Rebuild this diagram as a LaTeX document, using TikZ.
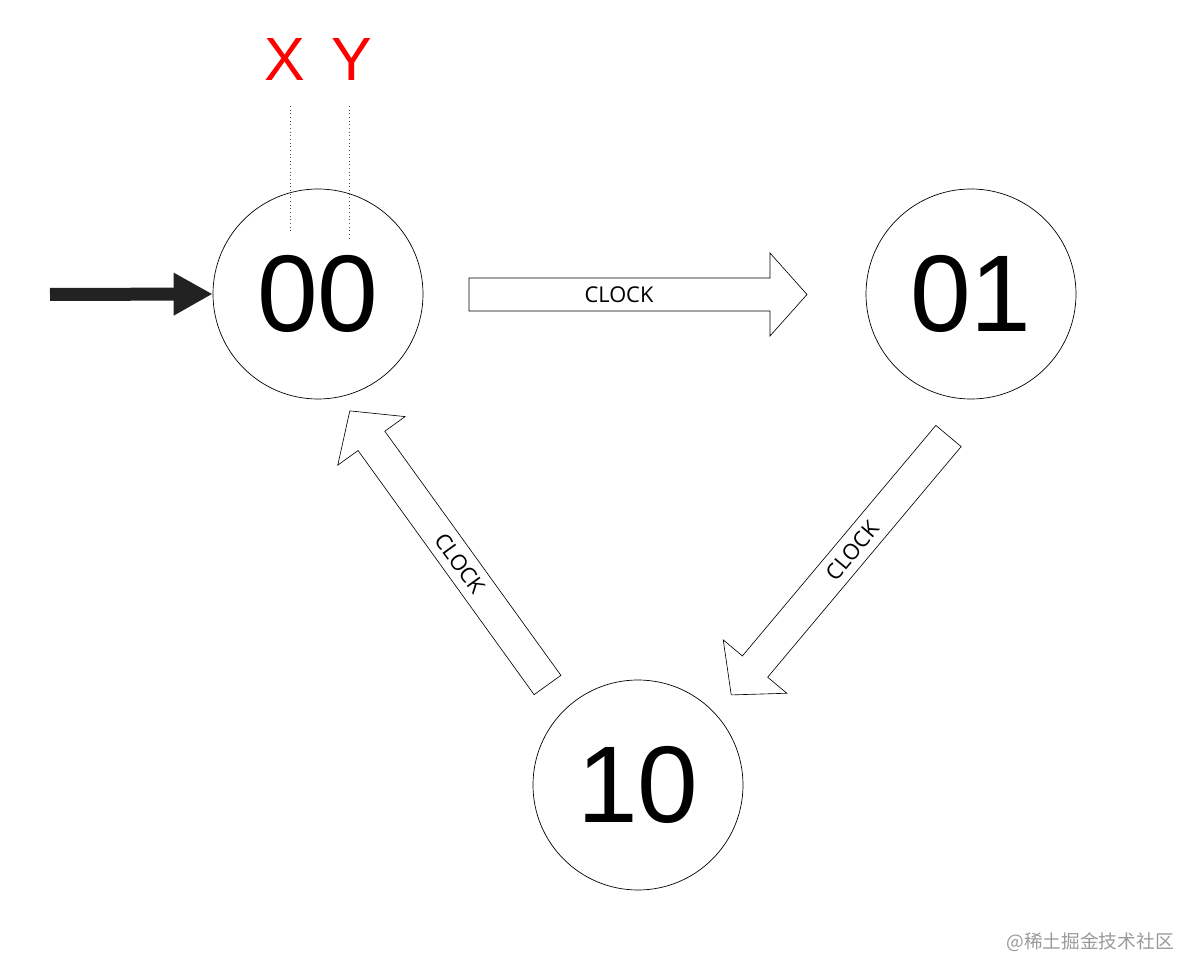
\documentclass[tikz,border=0pt]{standalone}
\usepackage{fontspec}
\usetikzlibrary{arrows.meta}
\newfontfamily\arialfont{Liberation Sans}
\newfontfamily\clockfont{Open Sans}
\newfontfamily\cjkfont{Noto Sans CJK SC}
\definecolor{startgray}{HTML}{222222}
\definecolor{markgray}{HTML}{9A9A9A}
\definecolor{dotgray}{HTML}{555555}

\tikzset{
  state/.style={draw, circle, line width=0.5pt, minimum size=210*0.025cm, inner sep=0pt,
    font=\arialfont\fontsize{77.6}{80}\selectfont},
  varlabel/.style={text=red, inner sep=0pt, font=\arialfont\fontsize{43.4}{45}\selectfont},
  blockarrow/.style={draw, line width=0.45pt, fill=white},
  clocklabel/.style={inner sep=0pt, font=\clockfont\fontsize{15.5}{16}\selectfont},
}

% block arrow: name, tail point, direction, label angle
\newcommand{\clockarrow}[4]{%
  \begin{scope}[shift={#2}, rotate=#3]
    \draw[blockarrow] (0,-16.5) -- (301,-16.5) -- (301,-41.5) -- (338,0)
      -- (301,41.5) -- (301,16.5) -- (0,16.5) -- cycle;
    \node[clocklabel, rotate=#4] (#1) at (150,0) {CLOCK};
  \end{scope}}

\begin{document}
\begin{tikzpicture}[x=0.025cm, y=0.025cm]
\useasboundingbox (0,0) rectangle (1199,-978);

\node[state] (s00) at (318,-294) {00};
\node[state] (s01) at (971,-294) {01};
\node[state] (s10) at (638,-785) {10};

% start arrow
\coordinate (start) at (50,-294.5);
\draw[startgray, line width=13*0.025cm,
  -{Triangle[length=39*0.025cm, width=40*0.025cm]}] (start) -- (s00.west);

% bit labels
\node[varlabel] (x) at (285,-60) {X};
\node[varlabel] (y) at (352,-60) {Y};
\coordinate (xtop) at (290.7,-106);
\coordinate (xbot) at (290.7,-233);
\coordinate (ytop) at (349,-106);
\coordinate (ybot) at (349,-240);
\draw[dotgray, dotted, line width=0.6pt] (xtop) -- (xbot);
\draw[dotgray, dotted, line width=0.6pt] (ytop) -- (ybot);

% transitions
\clockarrow{c1}{(469,-294.5)}{0}{0}
\clockarrow{c2}{(948.5,-436)}{230}{50}
\clockarrow{c3}{(547.5,-685)}{125.8}{-54.2}

\node[anchor=east, text=markgray, inner sep=0pt,
  font=\cjkfont\fontsize{13.3}{14}\selectfont] (mark) at (1174,-942) {@稀土掘金技术社区};
\end{tikzpicture}
\end{document}
